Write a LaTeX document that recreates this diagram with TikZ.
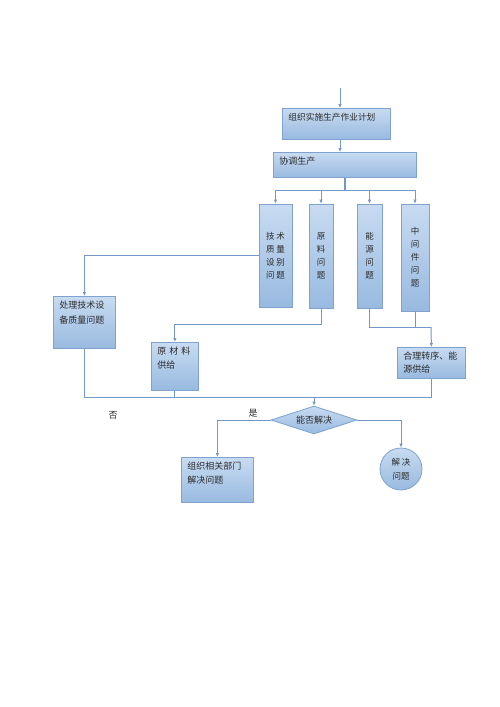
\documentclass[tikz,border=0pt]{standalone}
\usepackage{fontspec}
\setmainfont{Noto Sans CJK SC}
\usetikzlibrary{arrows.meta,shapes.geometric}
\definecolor{FlowLine}{HTML}{7397C6}
\definecolor{FlowEdge}{HTML}{7FA2CE}
\definecolor{FlowTop}{HTML}{C8DBF1}
\definecolor{FlowBot}{HTML}{98BAE0}
\definecolor{FlowText}{HTML}{2B2B2B}
\tikzset{
  flowbox/.style={draw=FlowEdge, line width=0.8pt, top color=FlowTop, bottom color=FlowBot,
                  text=FlowText, font=\fontsize{9pt}{14pt}\selectfont},
  procbox/.style={flowbox, anchor=north west, align=left, inner xsep=6pt, inner ysep=5pt,
                  text height=7pt},
  tallbox/.style={flowbox, align=center, inner sep=0pt, font=\fontsize{8.5pt}{13pt}\selectfont},
  decision/.style={flowbox, diamond, aspect=3, inner sep=0pt, minimum width=86pt,
                   minimum height=28pt},
  endstate/.style={flowbox, circle, inner sep=0pt, minimum size=42pt, align=center,
                   font=\fontsize{8.5pt}{14pt}\selectfont},
  link/.style={draw=FlowLine, line width=1pt},
  arrow/.style={link, -{Latex[length=4pt,width=3.5pt]}},
  mainlink/.style={draw=FlowLine, line width=2pt},
  answer/.style={text=FlowText, font=\fontsize{9pt}{11pt}\selectfont},
}

\begin{document}
\begin{tikzpicture}[x=1pt, y=-1pt]
  \fill[white] (0,0) rectangle (500,707);
  \useasboundingbox (0,0) rectangle (500,707);

  % planning
  \coordinate (start) at (340,88);
  \node[procbox, minimum width=108pt, minimum height=31pt, text width=96pt, text depth=14pt,
        font=\fontsize{8.7pt}{14pt}\selectfont] (plan) at (282,108) {组织实施生产作业计划};
  \node[procbox, minimum width=143pt, minimum height=25pt, text width=131pt, text depth=8pt]
        (coord) at (273,152) {协调生产};

  % problem columns
  \node[tallbox, minimum width=33pt, minimum height=103pt] (tech) at (275.5,255.5)
        {技 术\\质 量\\设 别\\问 题};
  \node[tallbox, minimum width=24pt, minimum height=104pt] (raw) at (321,256)
        {原\\料\\问\\题};
  \node[tallbox, minimum width=25pt, minimum height=104pt] (energy) at (369.5,256)
        {能\\源\\问\\题};
  \node[tallbox, minimum width=28pt, minimum height=107pt] (mid) at (415,257.5)
        {中\\间\\件\\问\\题};

  % handling
  \node[procbox, minimum width=62pt, minimum height=52pt, text width=50pt, text depth=35pt,
        font=\fontsize{9pt}{15pt}\selectfont] (fix) at (53,296) {处理技术设\\备质量问题};
  \node[procbox, minimum width=47pt, minimum height=48pt, text width=35pt, text depth=31pt]
        (supply) at (151,342) {原 材 料\\供给};
  \node[procbox, minimum width=68pt, minimum height=31pt, text width=56pt, text depth=14pt,
        font=\fontsize{9pt}{13pt}\selectfont] (order) at (397,347) {合理转序、能\\源供给};

  % decision
  \node[decision] (check) at (314,420) {能否解决};
  \node[procbox, minimum width=72pt, minimum height=45pt, text width=60pt, text depth=28pt]
        (dept) at (181,457) {组织相关部门\\解决问题};
  \node[endstate] (solved) at (401,469) {解 决\\问题};
  \node[answer] (no) at (113,415) {否};
  \node[answer] (yes) at (253,413) {是};

  % connectors
  \draw[arrow] (start) -- (start |- plan.north);
  \draw[arrow] (plan.south -| start) -- (coord.north -| start);
  \coordinate (split) at (345,190);
  \draw[mainlink] (coord.south -| split) -- (split);
  \draw[link] (tech.north |- split) -- (mid.north |- split);
  \foreach \col in {tech,raw,energy,mid}
    \draw[arrow] (\col.north |- split) -- (\col.north);

  \draw[arrow] (tech.west) -| (fix.north);
  \draw[arrow] (raw.south) -- ++(0,16) -| (supply.north);
  \coordinate (hjoin) at (431,327);
  \draw[link] (energy.south) |- (hjoin);
  \draw[link] (mid.south) -- (mid.south |- hjoin);
  \draw[arrow] (hjoin) -- (order.north);

  \coordinate (merge) at (314,397);
  \draw[link] (fix.south) -- (fix.south |- merge) -- (order.south |- merge) -- (order.south);
  \draw[link] (supply.south) -- (supply.south |- merge);
  \draw[arrow] (merge) -- (check.north);

  \draw[arrow] (check.west) -| (dept.north);
  \draw[arrow] (check.east) -| (solved.north);

\end{tikzpicture}
\end{document}
